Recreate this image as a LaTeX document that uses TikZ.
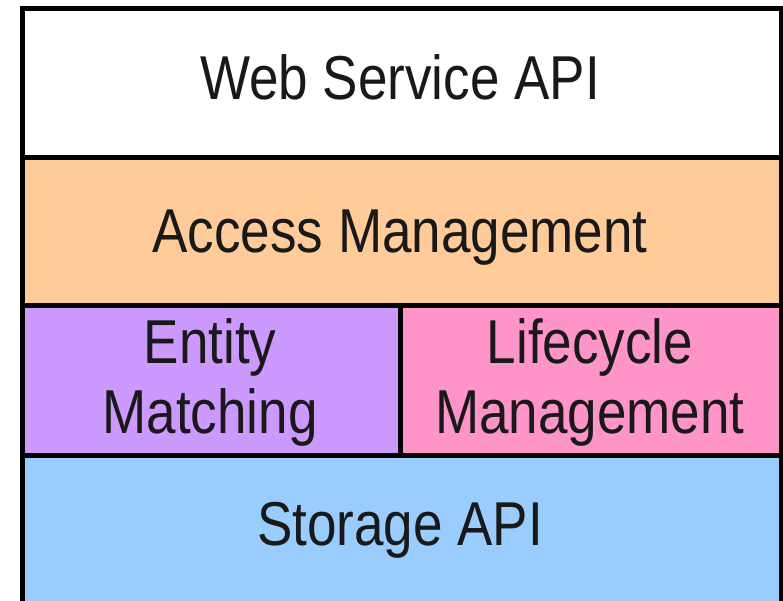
\documentclass[tikz,border=0pt]{standalone}
\usepackage{fontspec}
\newfontfamily\layerfont[FakeStretch=0.855]{Liberation Sans}
\begin{document}
\begin{tikzpicture}[x=1pt,y=-1pt,
  cell/.style={draw=none,rectangle,inner sep=0pt,outer sep=0pt},
  rule/.style={line width=5pt,black},
  label/.style={anchor=base,inner sep=0pt,text=black!90,
    font=\layerfont\fontsize{62}{70}\selectfont,align=center}]
  \useasboundingbox (0,0) rectangle (783,601);
  % layer fills
  \fill[white]            (22,8.5)    rectangle (781,157.5);
  \fill[orange!40!white, fill={rgb,255:red,255;green,204;blue,153}] (22,157.5) rectangle (781,305.5);
  \fill[fill={rgb,255:red,204;green,153;blue,255}] (22,305.5) rectangle (400,455.5);
  \fill[fill={rgb,255:red,255;green,148;blue,200}] (400,305.5) rectangle (781,455.5);
  \fill[fill={rgb,255:red,153;green,204;blue,255}] (22,455.5) rectangle (781,601);
  % named corners of the stack
  \coordinate (tl) at (22,8.5);
  \coordinate (tr) at (781,8.5);
  \coordinate (bl) at (22,601);
  \coordinate (br) at (781,601);
  \coordinate (l1) at (22,157.5);   \coordinate (r1) at (781,157.5);
  \coordinate (l2) at (22,305.5);   \coordinate (r2) at (781,305.5);
  \coordinate (l3) at (22,455.5);   \coordinate (r3) at (781,455.5);
  \coordinate (m2) at (400,305.5);  \coordinate (m3) at (400,455.5);
  % frame and separators
  \draw[rule,line cap=rect] (bl) -- (tl) -- (tr) -- (br);
  \draw[rule] (l1) -- (r1);
  \draw[rule] (l2) -- (r2);
  \draw[rule] (l3) -- (r3);
  \draw[rule] (m2) -- (m3);
  % layer labels
  \node[label] (web)    at (400,100) {Web Service API};
  \node[label] (access) at (400,253) {Access Management};
  \node[label] (entity) at (210,363) {Entity};
  \node[label] (match)  at (210,433) {Matching};
  \node[label] (life)   at (590,363) {Lifecycle};
  \node[label] (mgmt)   at (590,433) {Management};
  \node[label] (store)  at (400,545) {Storage API};
\end{tikzpicture}
\end{document}
